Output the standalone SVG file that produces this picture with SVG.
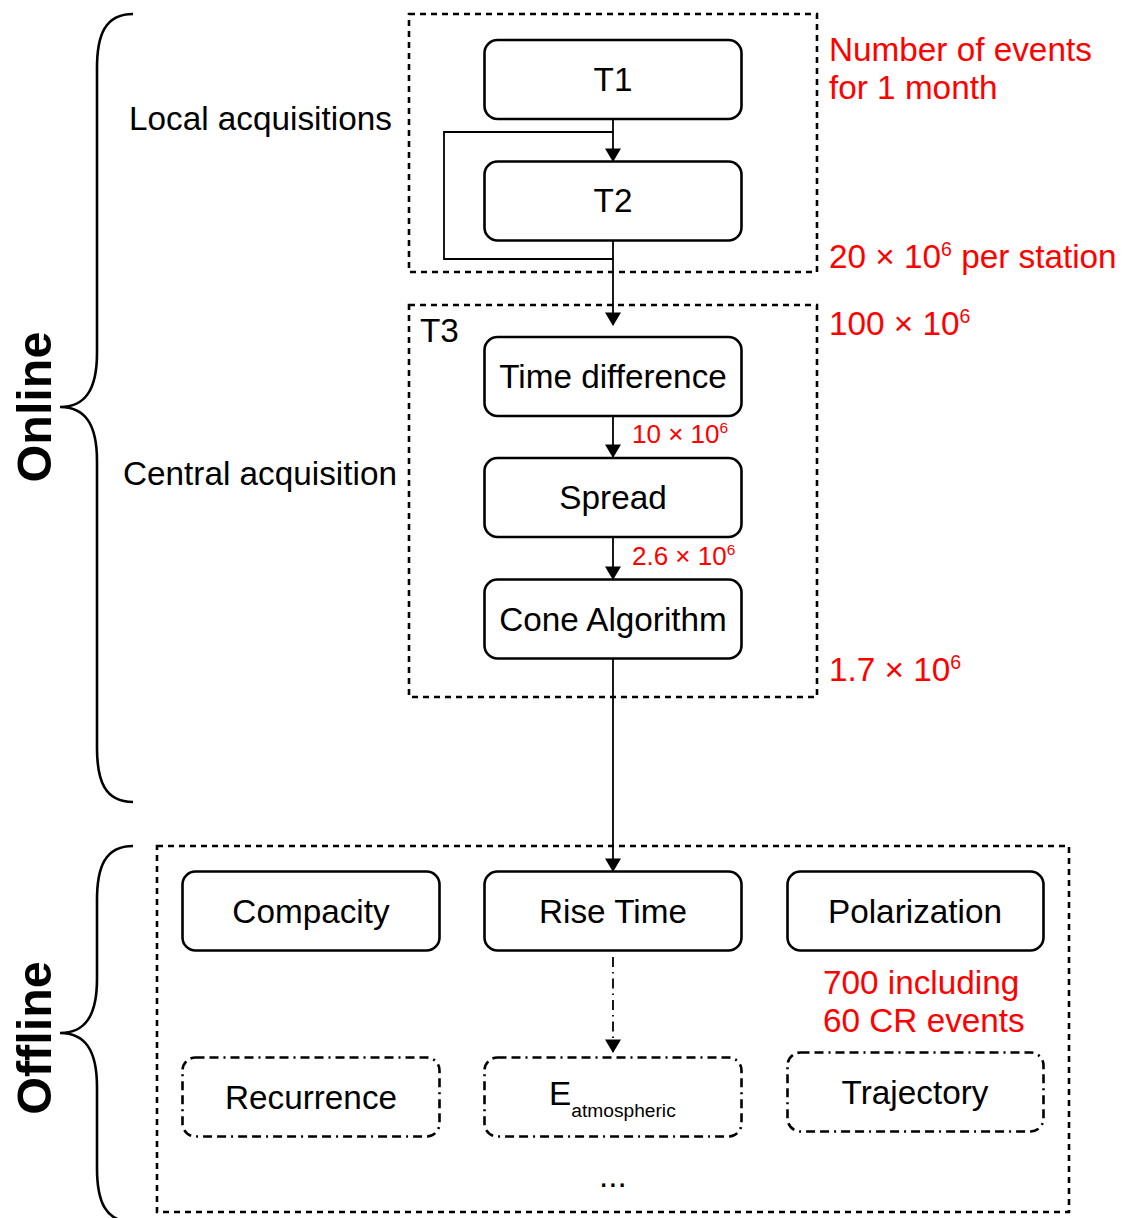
<svg xmlns="http://www.w3.org/2000/svg" width="1126" height="1218" viewBox="0 0 1126 1218">
<defs>
<marker id="arr" markerUnits="userSpaceOnUse" markerWidth="19" markerHeight="16" refX="14" refY="9" orient="auto" viewBox="0 0 16 18">
<path d="M0,0 L15,9 L0,18 Z" fill="#000"/>
</marker>
<style>
text{font-family:"Liberation Sans",Arial,sans-serif;}
.lbl{font-size:33.3px;fill:#000;}
.mid{text-anchor:middle;}
.red{fill:#ff0000;font-size:33.3px;}
.reds{fill:#ff0000;font-size:26px;}
.node{fill:#fff;stroke:#000;stroke-width:2.6;}
.opt{fill:#fff;stroke:#000;stroke-width:2.6;stroke-dasharray:9 5 9 5 2 5;}
.grp{fill:none;stroke:#000;stroke-width:2.6;stroke-dasharray:6 5;}
.brace{fill:none;stroke:#000;stroke-width:2.6;}
.edge{fill:none;stroke:#000;stroke-width:1.8;}
.big{font-size:48.5px;font-weight:bold;}
</style>
</defs>
<rect width="1126" height="1218" fill="#fff"/>

<g id="braces">
<path class="brace" d="M133,14 C105,14 97,35 97,68 L97,353 C97,390 85,407 60,407 C85,407 97,424 97,461 L97,748 C97,781 105,802 133,802"/>
<path class="brace" d="M133,846 C105,846 97,867 97,900 L97,979 C97,1016 85,1033 60,1033 C85,1033 97,1050 97,1087 L97,1168 C97,1201 105,1222 133,1222"/>
<text class="big mid" transform="translate(51,407) rotate(-90)">Online</text>
<text class="big mid" transform="translate(51,1038) rotate(-90)">Offline</text>
</g>

<g id="groups">
<rect class="grp" x="409" y="14" width="408" height="258"/>
<rect class="grp" x="409" y="305" width="408" height="392"/>
<rect class="grp" x="157" y="846" width="912" height="366"/>
<text class="lbl" x="420" y="342">T3</text>
<text class="lbl" x="129" y="130">Local acquisitions</text>
<text class="lbl" x="123" y="485">Central acquisition</text>
</g>

<g id="connectors">
<line class="edge" x1="613" y1="119" x2="613" y2="161" marker-end="url(#arr)"/>
<path class="edge" d="M613,132 L444,132 L444,259 L613,259"/>
<line class="edge" x1="613" y1="241" x2="613" y2="325" marker-end="url(#arr)"/>
<line class="edge" x1="613" y1="416" x2="613" y2="457" marker-end="url(#arr)"/>
<line class="edge" x1="613" y1="537" x2="613" y2="579" marker-end="url(#arr)"/>
<line class="edge" x1="613" y1="659" x2="613" y2="871" marker-end="url(#arr)"/>
<line class="edge" x1="613" y1="957" x2="613" y2="1052" stroke-dasharray="10 5 1.5 5" marker-end="url(#arr)"/>
</g>

<g id="n-t1"><rect class="node" x="484.5" y="40" width="257" height="79" rx="13"/><text class="lbl mid" x="613" y="91">T1</text></g>
<g id="n-t2"><rect class="node" x="484.5" y="161.5" width="257" height="79" rx="13"/><text class="lbl mid" x="613" y="212">T2</text></g>
<g id="n-timediff"><rect class="node" x="484.5" y="337" width="257" height="79" rx="13"/><text class="lbl mid" x="613" y="388">Time difference</text></g>
<g id="n-spread"><rect class="node" x="484.5" y="458" width="257" height="79" rx="13"/><text class="lbl mid" x="613" y="509">Spread</text></g>
<g id="n-cone"><rect class="node" x="484.5" y="579.5" width="257" height="79" rx="13"/><text class="lbl mid" x="613" y="631">Cone Algorithm</text></g>
<g id="n-compacity"><rect class="node" x="182.5" y="871.5" width="257" height="79" rx="13"/><text class="lbl mid" x="311" y="923">Compacity</text></g>
<g id="n-risetime"><rect class="node" x="484.5" y="871.5" width="257" height="79" rx="13"/><text class="lbl mid" x="613" y="923">Rise Time</text></g>
<g id="n-polarization"><rect class="node" x="787.5" y="871.5" width="256" height="79" rx="13"/><text class="lbl mid" x="915" y="923">Polarization</text></g>
<g id="n-recurrence"><rect class="opt" x="182.5" y="1057.5" width="257" height="79" rx="13"/><text class="lbl mid" x="311" y="1109">Recurrence</text></g>
<g id="n-eatm"><rect class="opt" x="484.5" y="1057.5" width="257" height="79" rx="13"/><text class="lbl" x="549" y="1105">E<tspan font-size="19.2" dy="12">atmospheric</tspan></text></g>
<g id="n-trajectory"><rect class="opt" x="787.5" y="1052.5" width="256" height="79" rx="13"/><text class="lbl mid" x="915" y="1104">Trajectory</text></g>
<text class="lbl mid" x="613" y="1187">...</text>

<g id="counts">
<text class="red" x="829" y="61">Number of events</text>
<text class="red" x="829" y="99">for 1 month</text>
<text class="red" x="829" y="268">20 × 10<tspan font-size="19.5" dy="-12">6</tspan><tspan dy="12"> per station</tspan></text>
<text class="red" x="829" y="335">100 × 10<tspan font-size="19.5" dy="-12">6</tspan></text>
<text class="red" x="829" y="681">1.7 × 10<tspan font-size="19.5" dy="-12">6</tspan></text>
<text class="reds" x="632" y="443">10 × 10<tspan font-size="15.5" dy="-10">6</tspan></text>
<text class="reds" x="632" y="565">2.6 × 10<tspan font-size="15.5" dy="-10">6</tspan></text>
<text class="red" x="823" y="994">700 including</text>
<text class="red" x="823" y="1032">60 CR events</text>
</g>
</svg>
